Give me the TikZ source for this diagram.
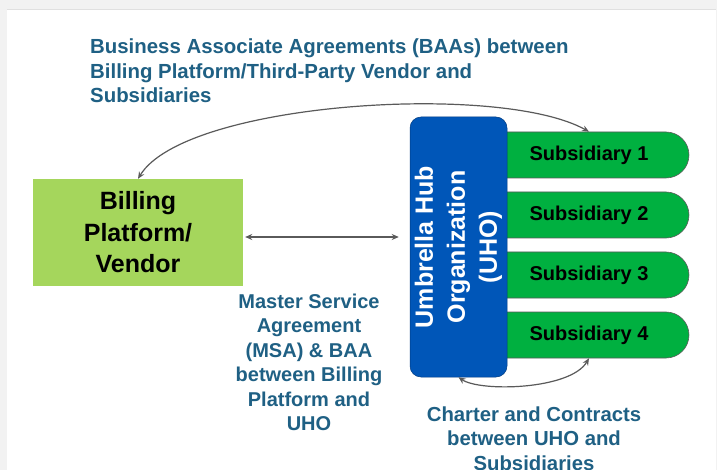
\documentclass[tikz,border=0pt]{standalone}
\usepackage{fontspec}
\setmainfont{Liberation Sans}
\usetikzlibrary{shapes.misc,arrows.meta}
\definecolor{txtblue}{RGB}{31,96,132}
\definecolor{billgreen}{RGB}{165,214,92}
\definecolor{subgreen}{RGB}{0,176,64}
\definecolor{uhoblue}{RGB}{0,86,184}
\definecolor{arrowgray}{RGB}{90,90,90}
\definecolor{bggray}{RGB}{242,242,242}
\tikzset{
  bluetext/.style={text=txtblue, font=\bfseries\fontsize{20}{24.5}\selectfont, inner sep=0pt, align=center},
  billbox/.style={fill=billgreen, minimum width=210pt, minimum height=107pt, inner sep=0pt, align=center,
    font=\bfseries\fontsize{25}{31.5}\selectfont},
  subbox/.style={shape=rounded rectangle, rounded rectangle left arc=none, fill=subgreen, draw=arrowgray,
    line width=0.6pt, minimum width=198pt, minimum height=46pt, inner sep=0pt,
    font=\bfseries\fontsize{20}{23}\selectfont},
  uhobox/.style={fill=uhoblue, draw=uhoblue!70!black, line width=0.5pt, rounded corners=11pt,
    minimum width=97pt, minimum height=260pt, inner sep=0pt},
  uhotext/.style={text=white, font=\bfseries\fontsize{25}{32}\selectfont, align=center, inner sep=0pt},
  conn/.style={draw=arrowgray, line width=1.2pt, {Stealth[length=7pt,width=6pt]}-{Stealth[length=7pt,width=6pt]}}
}
\begin{document}
\begin{tikzpicture}[x=1pt,y=-1pt]
\useasboundingbox (0,0) rectangle (717,470);
\fill[bggray] (0,0) rectangle (717,470);
\fill[white] (7,10) rectangle (716,470);
\draw[black!12, line width=1pt] (7,9.5) -- (716,9.5);

\node[bluetext, align=left, anchor=north west, font=\bfseries\fontsize{20.4}{24.5}\selectfont] (title) at (90,39)
  {Business Associate Agreements (BAAs) between\\Billing Platform/Third-Party Vendor and\\Subsidiaries};

\node[billbox] (billing) at (138,232.5) {Billing\\Platform/\\Vendor};

\node[subbox] (sub1) at (589,155) {Subsidiary 1};
\node[subbox] (sub2) at (589,215) {Subsidiary 2};
\node[subbox] (sub3) at (589,275) {Subsidiary 3};
\node[subbox] (sub4) at (589,335) {Subsidiary 4};

\node[uhobox] (uho) at (458.5,247) {};
\node[uhotext, rotate=90] (uholabel) at (uho.center) {Umbrella Hub\\Organization\\(UHO)};

\node[bluetext] (msa) at (309,362.5)
  {Master Service\\Agreement\\(MSA) \& BAA\\between Billing\\Platform and\\UHO};
\node[bluetext, font=\bfseries\fontsize{20.3}{24.5}\selectfont] (charter) at (534,438.5)
  {Charter and Contracts\\between UHO and\\Subsidiaries};

\draw[conn] (billing.north) .. controls (185,102) and (500,82) .. (sub1.north);
\coordinate (arrL) at ([yshift=-4.5pt,xshift=2pt]billing.east);
\draw[conn, shorten >=11pt] (arrL) -- (arrL -| uho.west);
\draw[conn] (uho.south) .. controls (480,392) and (570,390) .. (sub4.south);
\end{tikzpicture}
\end{document}
